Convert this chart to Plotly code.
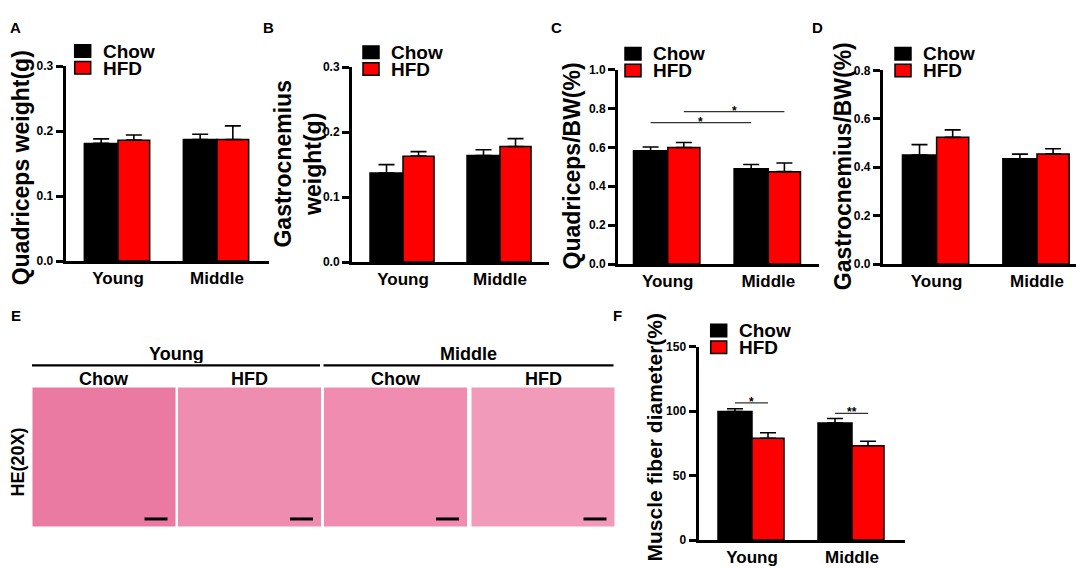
import plotly.graph_objects as go

W, H = 1084, 568
FONT = "Liberation Sans, Arial, sans-serif"

groups = ["Young", "Middle"]
series = ["Chow", "HFD"]
colors = {"Chow": "#000000", "HFD": "#ff0000"}

# A - quadriceps weight (g)
quad_w_chow = [0.181, 0.187]
quad_w_chow_sem = [0.007, 0.008]
quad_w_hfd = [0.186, 0.187]
quad_w_hfd_sem = [0.008, 0.021]

# B - gastrocnemius weight (g)
gas_w_chow = [0.137, 0.164]
gas_w_chow_sem = [0.013, 0.009]
gas_w_hfd = [0.163, 0.178]
gas_w_hfd_sem = [0.007, 0.012]

# C - quadriceps / BW (%)
quad_bw_chow = [0.582, 0.490]
quad_bw_chow_sem = [0.020, 0.022]
quad_bw_hfd = [0.599, 0.475]
quad_bw_hfd_sem = [0.026, 0.045]
quad_bw_sig_pairs = [(("Young", "Chow"), ("Middle", "Chow")), (("Young", "HFD"), ("Middle", "HFD"))]
quad_bw_sig_y = [0.727, 0.784]
quad_bw_sig_text = ["*", "*"]

# D - gastrocnemius / BW (%)
gas_bw_chow = [0.450, 0.435]
gas_bw_chow_sem = [0.043, 0.019]
gas_bw_hfd = [0.523, 0.454]
gas_bw_hfd_sem = [0.031, 0.022]

# F - muscle fiber diameter (%)
fiber_chow = [99.6, 90.8]
fiber_chow_sem = [2.2, 3.5]
fiber_hfd = [78.9, 73.1]
fiber_hfd_sem = [4.3, 3.5]
fiber_sig_pairs = [(("Young", "Chow"), ("Young", "HFD")), (("Middle", "Chow"), ("Middle", "HFD"))]
fiber_sig_y = [106.4, 98.3]
fiber_sig_text = ["*", "**"]

# E - HE staining panels
he_ages = ["Young", "Middle"]
he_diets = ["Chow", "HFD", "Chow", "HFD"]
he_tone = ["#eb7aa2", "#ee8db0", "#f08cb0", "#f19ab9"]

# bar geometry (in category units)
CHOW_W, HFD_W = 0.34, 0.32
offsets = {"Chow": -CHOW_W, "HFD": 0.0}
widths = {"Chow": CHOW_W, "HFD": HFD_W}


def bar_center(group, s):
    return groups.index(group) + offsets[s] + widths[s] / 2


def px(x):
    return x / W


def py(y):
    return 1 - y / H


# panel layout in pixels: axis left, young centre, middle centre, axis right, top tick, zero
panels = [
    dict(name="A", left=57.7, c0=110, c1=209, right=260.7, top=52.3, zero=252.3, ymax=0.3, dtick=0.1, fmt=".1f",
         chow=quad_w_chow, chow_sem=quad_w_chow_sem, hfd=quad_w_hfd, hfd_sem=quad_w_hfd_sem, leg=(66.7, 30.5)),
    dict(name="B", left=344, c0=395, c1=492, right=541, top=53.5, zero=253.3, ymax=0.3, dtick=0.1, fmt=".1f",
         chow=gas_w_chow, chow_sem=gas_w_chow_sem, hfd=gas_w_hfd, hfd_sem=gas_w_hfd_sem, leg=(355, 31.7)),
    dict(name="C", left=610, c0=659.7, c1=760.3, right=810.6, top=56, zero=255.3, ymax=1.0, dtick=0.2, fmt=".1f",
         chow=quad_bw_chow, chow_sem=quad_bw_chow_sem, hfd=quad_bw_hfd, hfd_sem=quad_bw_hfd_sem, leg=(617, 33.3)),
    dict(name="D", left=874.8, c0=928.6, c1=1029, right=1081, top=56.7, zero=255.3, ymax=0.8, dtick=0.2, fmt=".1f",
         chow=gas_bw_chow, chow_sem=gas_bw_chow_sem, hfd=gas_bw_hfd, hfd_sem=gas_bw_hfd_sem, leg=(887, 33.3)),
    dict(name="F", left=690.5, c0=744, c1=844, right=896.7, top=340, zero=538.3, ymax=150, dtick=50, fmt="d",
         chow=fiber_chow, chow_sem=fiber_chow_sem, hfd=fiber_hfd, hfd_sem=fiber_hfd_sem, leg=(702.7, 317)),
]

fig = go.Figure()
shapes = []
annotations = []
layout_axes = {}

for i, p in enumerate(panels):
    n = "" if i == 0 else str(i + 1)
    sp = p["c1"] - p["c0"]
    xr = [(p["left"] - p["c0"]) / sp, (p["right"] - p["c0"]) / sp]
    for s in series:
        vals = p["chow"] if s == "Chow" else p["hfd"]
        sem = p["chow_sem"] if s == "Chow" else p["hfd_sem"]
        fig.add_trace(go.Bar(
            x=list(range(len(groups))), y=vals, name=s,
            width=widths[s], offset=offsets[s],
            marker=dict(color=colors[s], line=dict(color="black", width=1.5)),
            error_y=dict(type="data", array=sem, arrayminus=[0] * len(sem), symmetric=False,
                         color="black", thickness=1.6, width=8),
            xaxis="x" + n, yaxis="y" + n, showlegend=False,
        ))
    nt = int(round(p["ymax"] / p["dtick"]))
    layout_axes["xaxis" + n] = dict(
        domain=[px(p["left"]), px(p["right"])], range=xr, anchor="y" + n,
        tickvals=list(range(len(groups))), ticktext=groups, ticks="",
        showline=True, linecolor="black", linewidth=3, showgrid=False, zeroline=False,
        tickfont=dict(family=FONT, size=17, color="black", weight="bold"),
    )
    layout_axes["yaxis" + n] = dict(
        domain=[py(p["zero"]), py(p["top"])], range=[0, p["ymax"]], anchor="x" + n,
        tickvals=[k * p["dtick"] for k in range(nt + 1)], tickformat=p["fmt"],
        ticks="outside", ticklen=7, tickwidth=2.5, tickcolor="black",
        showline=True, linecolor="black", linewidth=3, showgrid=False, zeroline=False,
        tickfont=dict(family=FONT, size=12, color="black", weight="bold"),
    )
    # legend boxes
    lx, ly = p["leg"]
    for k, s in enumerate(series):
        y0 = ly + k * 17.3
        shapes.append(dict(type="rect", xref="paper", yref="paper",
                           x0=px(lx), x1=px(lx + 16), y0=py(y0), y1=py(y0 + 12.8),
                           fillcolor=colors[s], line=dict(color="black", width=1.5)))
        annotations.append(dict(x=px(lx + 26), y=py(y0 + 6.6), xref="paper", yref="paper",
                                text=s, showarrow=False, xanchor="left", yanchor="middle", height=17,
                                font=dict(family=FONT, size=19, color="black", weight="bold")))

# significance bars
for n, pairs, ys, texts in [("3", quad_bw_sig_pairs, quad_bw_sig_y, quad_bw_sig_text),
                            ("5", fiber_sig_pairs, fiber_sig_y, fiber_sig_text)]:
    for (a, b), yv, t in zip(pairs, ys, texts):
        xa, xb = bar_center(*a), bar_center(*b)
        shapes.append(dict(type="line", xref="x" + n, yref="y" + n, x0=xa, x1=xb, y0=yv, y1=yv,
                           line=dict(color="#333333", width=1.2)))
        annotations.append(dict(x=(xa + xb) / 2, y=yv, xref="x" + n, yref="y" + n, text=t,
                                showarrow=False, yanchor="middle", yshift=1,
                                font=dict(family=FONT, size=12, color="black", weight="bold")))

# y-axis titles
ytitles = [
    ("Quadriceps weight(g)", 12.5, 156.7, 23),
    ("Gastrocnemius<br>weight(g)", 290.3, 153, 23),
    ("Quadriceps/BW(%)", 564, 154.2, 23),
    ("Gastrocnemius/BW(%)", 835, 155, 23),
    ("Muscle fiber diameter(%)", 646.7, 432.5, 21),
]
for t, x, y, fs in ytitles:
    annotations.append(dict(x=px(x), y=py(y), xref="paper", yref="paper", text=t, textangle=-90,
                            showarrow=False, xanchor="center", yanchor="middle",
                            font=dict(family=FONT, size=fs, color="black", weight="bold")))

# panel letters
for t, x, y in [("A", 7.5, 13), ("B", 260.7, 13.3), ("C", 548.7, 13.3), ("D", 809, 13.3),
                ("E", 7.6, 308.3), ("F", 609, 308)]:
    annotations.append(dict(x=px(x), y=py(y), xref="paper", yref="paper", text=t, showarrow=False,
                            xanchor="center", yanchor="middle",
                            font=dict(family=FONT, size=15, color="black", weight="bold")))

# panel E: HE(20X) image tiles (drawn as flat tissue-coloured tiles)
tile_x = [24.5, 170, 316, 463.5]
tile_w = 143
tile_top, tile_bot = 382, 524.3
for k, (d, tone) in enumerate(zip(he_diets, he_tone)):
    x0 = tile_x[k]
    shapes.append(dict(type="rect", xref="paper", yref="paper", x0=px(x0), x1=px(x0 + tile_w),
                       y0=py(tile_bot), y1=py(tile_top), fillcolor=tone, line=dict(width=0), layer="below"))
    # scale bar
    shapes.append(dict(type="line", xref="paper", yref="paper", x0=px(x0 + tile_w - 31), x1=px(x0 + tile_w - 8),
                       y0=py(516.7), y1=py(516.7), line=dict(color="black", width=3)))
    annotations.append(dict(x=px(x0 + tile_w / 2), y=py(372.7), xref="paper", yref="paper", text=d,
                            showarrow=False, xanchor="center", yanchor="middle", height=19,
                            font=dict(family=FONT, size=18, color="black", weight="bold")))
for j, age in enumerate(he_ages):
    x0 = tile_x[2 * j] - 0.5
    x1 = tile_x[2 * j + 1] + tile_w - 1
    shapes.append(dict(type="line", xref="paper", yref="paper", x0=px(x0), x1=px(x1),
                       y0=py(359.3), y1=py(359.3), line=dict(color="black", width=2.2)))
    annotations.append(dict(x=px((x0 + x1) / 2), y=py(347), xref="paper", yref="paper", text=age,
                            showarrow=False, xanchor="center", yanchor="middle", height=19,
                            font=dict(family=FONT, size=18, color="black", weight="bold")))
annotations.append(dict(x=px(10.5), y=py(458.3), xref="paper", yref="paper", text="HE(20X)", textangle=-90,
                        showarrow=False, xanchor="center", yanchor="middle",
                        font=dict(family=FONT, size=18, color="black", weight="bold")))

fig.update_layout(
    width=W, height=H, margin=dict(l=0, r=0, t=0, b=0),
    paper_bgcolor="white", plot_bgcolor="white",
    showlegend=False, barmode="overlay",
    shapes=shapes, annotations=annotations,
    **layout_axes,
)

fig.write_html("out.html")
